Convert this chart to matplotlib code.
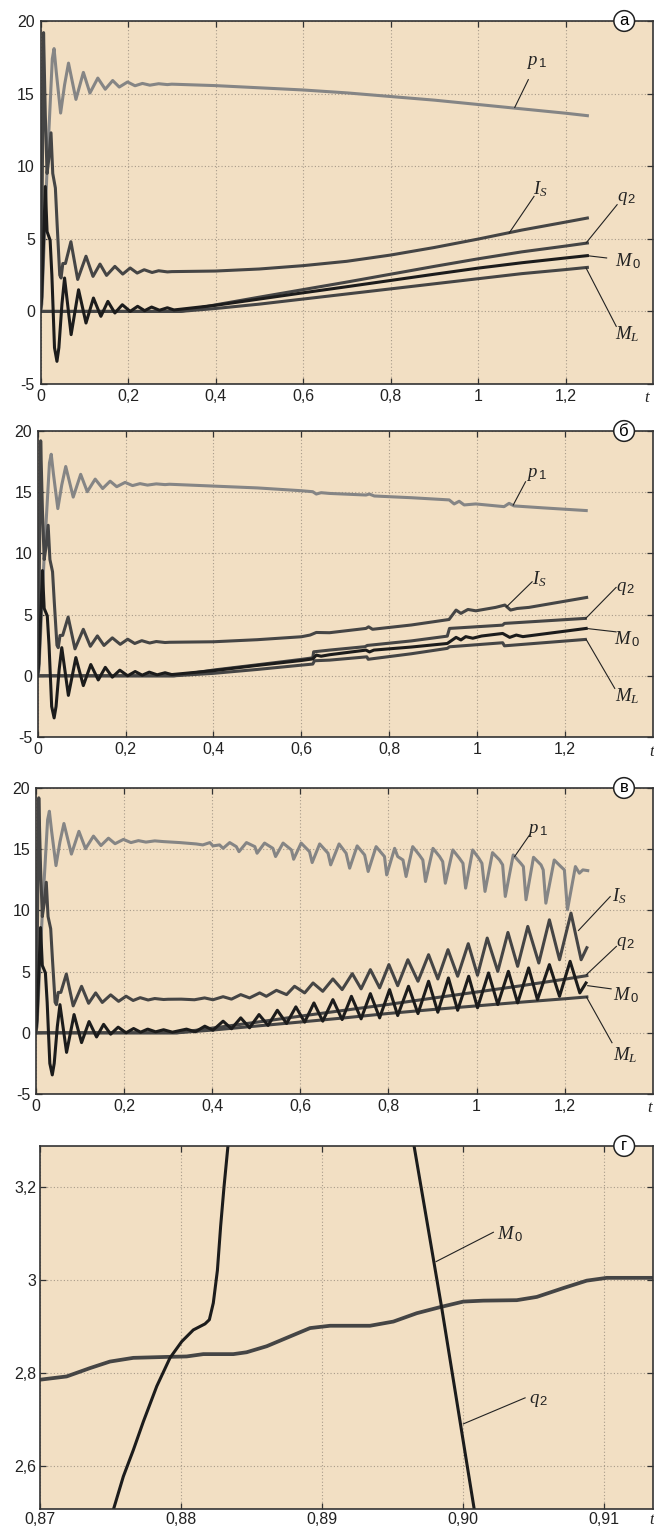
import numpy as np
import matplotlib
matplotlib.use('Agg')
import matplotlib.pyplot as plt

plt.rcParams['font.family'] = ['Liberation Sans', 'DejaVu Sans']
plt.rcParams['mathtext.fontset'] = 'custom'
plt.rcParams['mathtext.it'] = 'Liberation Serif:italic'
plt.rcParams['mathtext.rm'] = 'Liberation Serif'
plt.rcParams['mathtext.sf'] = 'Liberation Sans'

# ---- start-up transient (same in panels а, б, в) ----
t_p1_0 = [0, 0.003, 0.015, 0.027, 0.031, 0.036, 0.046, 0.055, 0.064, 0.081, 0.098, 0.113,
          0.131, 0.148, 0.165, 0.18, 0.199, 0.216, 0.233, 0.25, 0.27, 0.29]
p1_0 = [0, 0.5, 9.8, 17.4, 18.1, 16.5, 13.66, 15.6, 17.1, 14.6, 16.46, 15.04,
        16.07, 15.3, 15.9, 15.45, 15.8, 15.54, 15.7, 15.58, 15.68, 15.62]

t_is_0 = [0, 0.002, 0.007, 0.011, 0.015, 0.019, 0.024, 0.028, 0.034, 0.038, 0.044, 0.047,
          0.051, 0.057, 0.0695, 0.085, 0.104, 0.12, 0.136, 0.151, 0.17, 0.188, 0.205,
          0.221, 0.237, 0.255, 0.27, 0.29]
is_0 = [0, 2, 19.2, 13.5, 9.5, 10.5, 12.3, 9.5, 8.5, 6.0, 2.5, 2.3,
        3.3, 3.3, 4.8, 2.2, 3.8, 2.41, 3.26, 2.48, 3.1, 2.57, 2.99,
        2.64, 2.87, 2.68, 2.8, 2.72]

t_m0_0 = [0, 0.003, 0.011, 0.015, 0.022, 0.026, 0.032, 0.0376, 0.042, 0.049, 0.055, 0.070,
          0.087, 0.104, 0.121, 0.138, 0.154, 0.17, 0.187, 0.205, 0.222, 0.238, 0.254,
          0.272, 0.29]
m0_0 = [0, 1, 8.6, 5.5, 4.9, 2.5, -2.5, -3.44, -2.5, 0.5, 2.3, -1.6,
        1.49, -0.8, 0.92, -0.34, 0.69, -0.11, 0.46, 0.0, 0.35, 0.05, 0.3,
        0.08, 0.25]

# ---- panel а ----
t_p1_a = [0.3, 0.4, 0.5, 0.6, 0.7, 0.8, 0.9, 1.0, 1.1, 1.2, 1.25]
p1_a = [15.65, 15.55, 15.4, 15.25, 15.05, 14.8, 14.55, 14.25, 13.95, 13.65, 13.48]
t_is_a = [0.3, 0.4, 0.5, 0.6, 0.7, 0.8, 0.9, 1.0, 1.1, 1.2, 1.25]
is_a = [2.74, 2.78, 2.92, 3.15, 3.45, 3.88, 4.4, 4.98, 5.6, 6.15, 6.43]
t_m0_a = [0.305, 0.32, 0.4, 0.5, 0.6, 0.7, 0.8, 0.9, 1.0, 1.1, 1.2, 1.25]
m0_a = [0.1, 0.15, 0.42, 0.85, 1.28, 1.7, 2.13, 2.56, 2.98, 3.35, 3.68, 3.84]
t_q2_a = [0, 0.32, 0.4, 0.5, 0.6, 0.7, 0.8, 0.9, 1.0, 1.1, 1.2, 1.25]
q2_a = [0, 0, 0.45, 0.98, 1.5, 2.02, 2.56, 3.1, 3.62, 4.1, 4.5, 4.71]
t_ml_a = [0, 0.32, 0.4, 0.5, 0.6, 0.7, 0.8, 0.9, 1.0, 1.1, 1.2, 1.25]
ml_a = [0, 0, 0.2, 0.5, 0.85, 1.2, 1.55, 1.9, 2.25, 2.6, 2.88, 3.03]

# ---- panel б ----
t_p1_b = [0.3, 0.4, 0.5, 0.6, 0.626, 0.634, 0.645, 0.664, 0.747, 0.7546, 0.766, 0.85,
          0.9364, 0.9477, 0.959, 0.9704, 0.9969, 1.0612, 1.0726, 1.0839, 1.15, 1.2481]
p1_b = [15.65, 15.5, 15.35, 15.12, 15.04, 14.85, 14.96, 14.9, 14.77, 14.85, 14.69, 14.55,
        14.37, 14.04, 14.26, 13.96, 14.04, 13.82, 14.09, 13.88, 13.72, 13.5]
t_is_b = [0.3, 0.4, 0.5, 0.6, 0.62, 0.634, 0.664, 0.747, 0.753, 0.762, 0.85, 0.936,
          0.952, 0.963, 0.979, 0.997, 1.042, 1.063, 1.076, 1.091, 1.118, 1.249]
is_b = [2.74, 2.78, 2.95, 3.19, 3.33, 3.54, 3.52, 3.87, 4.0, 3.8, 4.15, 4.6,
        5.37, 5.1, 5.42, 5.31, 5.59, 5.78, 5.37, 5.5, 5.59, 6.4]
t_m0_b = [0.305, 0.32, 0.4, 0.5, 0.6, 0.626, 0.634, 0.645, 0.664, 0.747, 0.755, 0.765,
          0.85, 0.932, 0.952, 0.963, 0.974, 0.99, 1.01, 1.058, 1.074, 1.089, 1.104, 1.248]
m0_b = [0.1, 0.15, 0.42, 0.85, 1.25, 1.38, 1.69, 1.6, 1.72, 2.1, 1.95, 2.1,
        2.35, 2.64, 3.14, 2.93, 3.2, 3.07, 3.25, 3.46, 3.14, 3.33, 3.2, 3.87]
t_q2_b = [0, 0.31, 0.4, 0.5, 0.6, 0.626, 0.628, 0.664, 0.745, 0.75, 0.85, 0.932,
          0.937, 1.058, 1.062, 1.246]
q2_b = [0, 0, 0.47, 0.9, 1.34, 1.47, 1.96, 2.1, 2.38, 2.48, 2.85, 3.24,
        3.87, 4.14, 4.28, 4.69]
t_ml_b = [0, 0.31, 0.4, 0.5, 0.6, 0.626, 0.63, 0.664, 0.749, 0.752, 0.85, 0.932,
          0.937, 1.058, 1.062, 1.246]
ml_b = [0, 0, 0.2, 0.52, 0.87, 0.96, 1.23, 1.28, 1.55, 1.35, 1.8, 2.24,
        2.37, 2.7, 2.45, 2.97]

# ---- panel в ----
t_p1_v = [0.327, 0.364, 0.379, 0.395, 0.402, 0.417, 0.425, 0.44, 0.455, 0.461, 0.478,
          0.497, 0.502, 0.519, 0.538, 0.544, 0.561, 0.58, 0.585, 0.602, 0.621, 0.627,
          0.644, 0.663, 0.669, 0.688, 0.704, 0.712, 0.729, 0.746, 0.754, 0.772, 0.791,
          0.796, 0.814, 0.821, 0.833, 0.840, 0.855, 0.870, 0.878, 0.884, 0.901, 0.916,
          0.923, 0.929, 0.946, 0.961, 0.969, 0.975, 0.991, 1.005, 1.012, 1.019, 1.036,
          1.052, 1.059, 1.065, 1.083, 1.1, 1.106, 1.112, 1.129, 1.146, 1.151, 1.157,
          1.176, 1.191, 1.199, 1.206, 1.224, 1.233, 1.241, 1.252]
p1_v = [15.54, 15.43, 15.35, 15.54, 15.27, 15.35, 15.07, 15.54, 15.21, 14.8, 15.54,
        15.21, 14.67, 15.5, 15.07, 14.4, 15.5, 14.94, 14.18, 15.5, 14.8, 13.91,
        15.43, 14.67, 13.72, 15.43, 14.67, 13.45, 15.27, 14.53, 13.18, 15.21, 14.4,
        12.9, 15.07, 14.4, 14.12, 12.77, 15.21, 14.53, 14.12, 12.36, 15.07, 14.4,
        13.99, 12.22, 14.94, 14.26, 13.85, 11.82, 14.94, 14.26, 13.85, 11.55, 14.72,
        14.12, 13.72, 11.14, 14.53, 13.85, 13.58, 10.87, 14.34, 13.72, 13.31, 10.59,
        14.12, 13.58, 13.31, 10.05, 13.58, 13.04, 13.31, 13.25]
t_is_v = [0.3, 0.33, 0.36, 0.383, 0.402, 0.425, 0.444, 0.465, 0.485, 0.508, 0.523, 0.546,
          0.569, 0.587, 0.61, 0.629, 0.651, 0.674, 0.695, 0.718, 0.738, 0.759, 0.78,
          0.801, 0.821, 0.844, 0.867, 0.891, 0.912, 0.935, 0.957, 0.981, 1.002, 1.024,
          1.048, 1.071, 1.093, 1.116, 1.141, 1.165, 1.188, 1.214, 1.237, 1.25]
is_v = [2.74, 2.75, 2.7, 2.85, 2.7, 2.95, 2.75, 3.12, 2.85, 3.26, 2.98, 3.47,
        3.12, 3.8, 3.26, 4.07, 3.39, 4.4, 3.53, 4.83, 3.59, 5.16, 3.67,
        5.57, 3.85, 5.97, 4.21, 6.38, 4.4, 6.79, 4.62, 7.28, 4.7, 7.74,
        5.02, 8.2, 5.43, 8.69, 5.7, 9.23, 5.97, 9.78, 5.97, 6.95]
t_m0_v = [0.31, 0.342, 0.362, 0.3835, 0.402, 0.425, 0.444, 0.465, 0.485, 0.5065, 0.527,
          0.548, 0.569, 0.59, 0.61, 0.631, 0.651, 0.674, 0.695, 0.716, 0.738, 0.759,
          0.78, 0.8025, 0.821, 0.8455, 0.867, 0.891, 0.912, 0.936, 0.957, 0.982, 1.002,
          1.027, 1.048, 1.072, 1.093, 1.118, 1.138, 1.165, 1.188, 1.212, 1.234, 1.248]
m0_v = [0.05, 0.3, 0.08, 0.54, 0.21, 0.95, 0.33, 1.22, 0.41, 1.49, 0.6,
        1.84, 0.76, 2.12, 0.87, 2.44, 0.95, 2.71, 1.08, 2.98, 1.14, 3.2,
        1.22, 3.53, 1.41, 3.8, 1.57, 4.21, 1.68, 4.48, 1.84, 4.62, 2.04,
        4.89, 2.31, 5.02, 2.44, 5.3, 2.71, 5.57, 2.98, 5.84, 3.26, 4.07]
t_q2_v = [0, 0.32, 0.4, 0.5, 0.6, 0.7, 0.8, 0.9, 1.0, 1.1, 1.2, 1.25]
q2_v = [0, 0, 0.38, 0.86, 1.36, 1.84, 2.32, 2.83, 3.33, 3.84, 4.38, 4.67]
t_ml_v = [0, 0.32, 0.4, 0.5, 0.6, 0.7, 0.8, 0.9, 1.0, 1.1, 1.2, 1.25]
ml_v = [0, 0, 0.22, 0.55, 0.88, 1.22, 1.58, 1.9, 2.2, 2.5, 2.78, 2.93]

# ---- panel г (zoom) ----
t_g_q2 = [0.87, 0.87189, 0.87355, 0.87496, 0.87662, 0.87899, 0.8804, 0.88158, 0.88371,
          0.88465, 0.88608, 0.88773, 0.88915, 0.89057, 0.8934, 0.89506, 0.89672, 0.89837,
          0.90002, 0.90144, 0.90381, 0.90523, 0.90711, 0.90877, 0.91019, 0.91355]
g_q2 = [2.785, 2.792, 2.81, 2.824, 2.832, 2.834, 2.835, 2.84, 2.84,
        2.844, 2.857, 2.878, 2.896, 2.901, 2.901, 2.91, 2.928, 2.941,
        2.953, 2.955, 2.956, 2.963, 2.982, 2.998, 3.004, 3.004]
t_g_m0 = [0.87505, 0.87591, 0.87662, 0.87733, 0.87828, 0.87922, 0.88005, 0.88087, 0.8817,
          0.88201, 0.88229, 0.88258, 0.88281, 0.88305, 0.8834, np.nan, 0.8964, 0.89849, 0.90088]
g_m0 = [2.49, 2.577, 2.634, 2.695, 2.771, 2.832, 2.867, 2.892, 2.905,
        2.914, 2.95, 3.02, 3.115, 3.2, 3.31, np.nan, 3.31, 2.939, 2.49]

ticks_t = [0, 0.2, 0.4, 0.6, 0.8, 1.0, 1.2]
ticks_t_lab = ['0', '0,2', '0,4', '0,6', '0,8', '1', '1,2']
ticks_v = [-5, 0, 5, 10, 15, 20]
ticks_v_lab = ['-5', '0', '5', '10', '15', '20']
ticks_g_t = [0.87, 0.88, 0.89, 0.90, 0.91]
ticks_g_t_lab = ['0,87', '0,88', '0,89', '0,90', '0,91']
ticks_g_v = [2.6, 2.8, 3.0, 3.2]
ticks_g_v_lab = ['2,6', '2,8', '3', '3,2']

BG = '#f2dfc3'
C_P1 = '#858585'
C_DARK = '#454545'
C_BLACK = '#1c1c1c'
LW = 2.2

W, H = 654, 1532
fig = plt.figure(figsize=(W / 100, H / 100), dpi=100)


def rect(left, top, right, bottom):
    return [left / W, 1 - bottom / H, (right - left) / W, (bottom - top) / H]


def setup(ax, xlim, ylim, xt, xl, yt, yl, ypad=4, xpad=3.5):
    ax.set_facecolor(BG)
    ax.set_xlim(*xlim)
    ax.set_ylim(*ylim)
    ax.set_xticks(xt, xl)
    ax.set_yticks(yt, yl)
    ax.tick_params(direction='in', top=True, right=True, length=4, width=0.9,
                   color='#333333', labelsize=11.5, labelcolor='#222222')
    ax.tick_params(axis='y', pad=ypad)
    ax.tick_params(axis='x', pad=xpad)
    ax.grid(True, ls=(0, (1, 2)), lw=0.8, color='#a89b8a')
    ax.set_axisbelow(True)
    for s in ax.spines.values():
        s.set_linewidth(1.2)
        s.set_color('#333333')


def badge(ax, s):
    ax.text(0.953, 1.0, s, transform=ax.transAxes, ha='center', va='center', fontsize=12,
            bbox=dict(boxstyle='circle,pad=0.17', fc='white', ec='#222222', lw=1.1),
            clip_on=False, zorder=10)


def t_label(ax, x, y):
    ax.text(x, y, 't', transform=ax.transAxes, ha='center', va='center', fontsize=12,
            family='Liberation Serif', style='italic', color='#222222')


def tag(ax, s, xy, line):
    ax.text(xy[0], xy[1], s, ha='center', va='center', fontsize=13.5, color='#222222',
            clip_on=False, zorder=6)
    ax.plot([line[0][0], line[1][0]], [line[0][1], line[1][1]], color='#222222',
            lw=0.8, clip_on=False, zorder=6)


L_P1 = r'$p_{\,\mathsf{1}}$'
L_IS = r'$I_S$'
L_Q2 = r'$q_{\,\mathsf{2}}$'
L_M0 = r'$M_{\,\mathsf{0}}$'
L_ML = r'$M_L$'

# panel а
ax = fig.add_axes(rect(40.5, 21, 653, 384))
setup(ax, (0, 1.4), (-5, 20), ticks_t, ticks_t_lab, ticks_v, ticks_v_lab)
ax.plot(t_q2_a, q2_a, color=C_DARK, lw=LW)
ax.plot(t_ml_a, ml_a, color=C_DARK, lw=LW)
ax.plot(t_p1_0 + t_p1_a, p1_0 + p1_a, color=C_P1, lw=LW)
ax.plot(t_is_0 + t_is_a, is_0 + is_a, color=C_DARK, lw=LW)
ax.plot(t_m0_0 + t_m0_a, m0_0 + m0_a, color=C_BLACK, lw=LW)
tag(ax, L_P1, (1.134, 17.16), [(1.115, 15.96), (1.084, 14.05)])
tag(ax, L_IS, (1.143, 8.42), [(1.128, 7.92), (1.071, 5.39)])
tag(ax, L_Q2, (1.34, 7.76), [(1.318, 7.35), (1.247, 4.71)])
tag(ax, L_M0, (1.343, 3.46), [(1.249, 3.84), (1.294, 3.68)])
tag(ax, L_ML, (1.341, -1.54), [(1.316, -1.03), (1.247, 2.99)])
badge(ax, 'а')
t_label(ax, 0.990, -0.039)

# panel б
ax = fig.add_axes(rect(37.6, 431, 653, 737))
setup(ax, (0, 1.4), (-5, 20), ticks_t, ticks_t_lab, ticks_v, ticks_v_lab)
ax.plot(t_q2_b, q2_b, color=C_DARK, lw=LW)
ax.plot(t_ml_b, ml_b, color=C_DARK, lw=LW)
ax.plot(t_p1_0 + t_p1_b, p1_0 + p1_b, color=C_P1, lw=LW)
ax.plot(t_is_0 + t_is_b, is_0 + is_b, color=C_DARK, lw=LW)
ax.plot(t_m0_0 + t_m0_b, m0_0 + m0_b, color=C_BLACK, lw=LW)
tag(ax, L_P1, (1.134, 16.48), [(1.110, 15.85), (1.082, 13.95)])
tag(ax, L_IS, (1.141, 7.86), [(1.125, 7.68), (1.067, 5.64)])
tag(ax, L_Q2, (1.337, 7.12), [(1.316, 7.22), (1.247, 4.69)])
tag(ax, L_M0, (1.341, 2.96), [(1.248, 3.87), (1.316, 3.59)])
tag(ax, L_ML, (1.341, -1.66), [(1.313, -1.03), (1.248, 2.97)])
badge(ax, 'б')
t_label(ax, 0.998, -0.048)

# panel в
ax = fig.add_axes(rect(35.7, 788, 653, 1094))
setup(ax, (0, 1.4), (-5, 20), ticks_t, ticks_t_lab, ticks_v, ticks_v_lab)
ax.plot(t_q2_v, q2_v, color=C_DARK, lw=LW)
ax.plot(t_ml_v, ml_v, color=C_DARK, lw=LW)
ax.plot(t_p1_0 + t_p1_v, p1_0 + p1_v, color=C_P1, lw=LW)
ax.plot(t_is_0 + t_is_v, is_0 + is_v, color=C_DARK, lw=LW)
ax.plot(t_m0_0 + t_m0_v, m0_0 + m0_v, color=C_BLACK, lw=LW)
tag(ax, L_P1, (1.137, 16.49), [(1.12, 16.16), (1.086, 14.39)])
tag(ax, L_IS, (1.323, 11.15), [(1.303, 11.13), (1.231, 8.36)])
tag(ax, L_Q2, (1.338, 7.32), [(1.317, 7.06), (1.249, 4.75)])
tag(ax, L_M0, (1.34, 3.04), [(1.252, 3.85), (1.305, 3.59)])
tag(ax, L_ML, (1.337, -1.85), [(1.307, -0.81), (1.249, 2.93)])
badge(ax, 'в')
t_label(ax, 0.995, -0.047)

# panel г
ax = fig.add_axes(rect(40, 1146, 653, 1509))
setup(ax, (0.87, 0.91347), (2.507, 3.2875), ticks_g_t, ticks_g_t_lab,
      ticks_g_v, ticks_g_v_lab, ypad=2.5, xpad=2.5)
ax.plot(t_g_q2, g_q2, color=C_DARK, lw=2.7)
ax.plot(t_g_m0, g_m0, color=C_BLACK, lw=2.2)
tag(ax, L_M0, (0.90333, 3.099), [(0.90215, 3.102), (0.89809, 3.039)])
tag(ax, L_Q2, (0.90535, 2.74), [(0.9044, 2.746), (0.90002, 2.69)])
badge(ax, 'г')
t_label(ax, 0.998, -0.030)

fig.savefig('out.png', dpi=100)
